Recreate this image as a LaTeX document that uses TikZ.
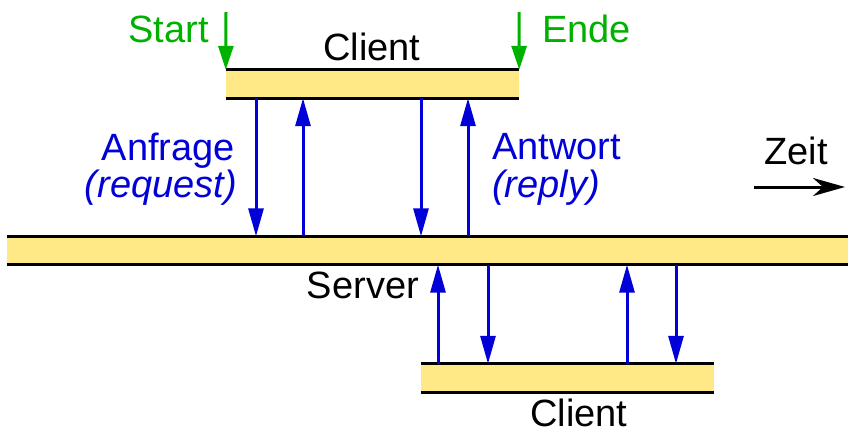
\documentclass[tikz,border=0pt]{standalone}
\usepackage{fontspec}
\setmainfont{Liberation Sans}
\usetikzlibrary{arrows.meta}
\definecolor{baryellow}{RGB}{255,233,135}
\definecolor{msgblue}{RGB}{0,0,215}
\definecolor{markgreen}{RGB}{0,178,0}
\tikzset{
  bar/.style={fill=baryellow, draw=none, inner sep=0pt, minimum height=28pt},
  barline/.style={line width=3pt, black},
  msg/.style={line width=3pt, msgblue, -{Triangle[width=15pt,length=28pt]}},
  markarrow/.style={line width=3pt, markgreen, -{Triangle[width=15pt,length=24pt]}},
  lbl/.style={font=\fontsize{38}{44}\selectfont, inner sep=0pt, text depth=0pt},
  timearrow/.style={line width=3pt, black, -{Stealth[width=18pt,length=32pt,inset=10pt]}}
}
\begin{document}
\begin{tikzpicture}[x=1pt,y=-1pt]
\useasboundingbox (0,0) rectangle (848,434);
% bars
\node[bar, minimum width=293pt] (c1) at (372.5,84) {};
\node[bar, minimum width=850pt] (srv) at (432,250.5) {};
\node[bar, minimum width=293pt] (c2) at (567.5,378) {};
\foreach \b in {c1,srv,c2}{
  \draw[barline] (\b.north west) -- (\b.north east);
  \draw[barline] (\b.south west) -- (\b.south east);
}
% labels
\node[lbl, anchor=base] (c1lbl) at (372,60) {Client};
\node[lbl, anchor=base] (c2lbl) at (579,426) {Client};
\node[lbl, anchor=base east] (srvlbl) at (419,298) {Server};
\node[lbl, anchor=base east, text=markgreen] (start) at (209,42) {Start};
\node[lbl, anchor=base west, text=markgreen] (ende) at (542,42) {Ende};
\node[lbl, anchor=base east, text=msgblue] (anfrage) at (235,160) {Anfrage};
\node[lbl, anchor=base east, text=msgblue] (request) at (237,197) {\itshape (request)};
\node[lbl, anchor=base west, text=msgblue] (antwort) at (492,159) {Antwort};
\node[lbl, anchor=base west, text=msgblue] (reply) at (492,197) {\itshape (reply)};
\node[lbl, anchor=base] (zeit) at (796,164) {Zeit};
% start / end markers
\coordinate (startTop) at (226,12);
\coordinate (endeTop) at (519,12);
\draw[markarrow] (startTop) -- (c1.north west);
\draw[markarrow] (endeTop) -- (c1.north east);
% top client <-> server
\draw[msg] (c1.south -| 256,0) -- (srv.north -| 256,0);
\draw[msg] (srv.north -| 303,0) -- (c1.south -| 303,0);
\draw[msg] (c1.south -| 421,0) -- (srv.north -| 421,0);
\draw[msg] (srv.north -| 468,0) -- (c1.south -| 468,0);
% bottom client <-> server
\draw[msg] (c2.north -| 438,0) -- (srv.south -| 438,0);
\draw[msg] (srv.south -| 488,0) -- (c2.north -| 488,0);
\draw[msg] (c2.north -| 627,0) -- (srv.south -| 627,0);
\draw[msg] (srv.south -| 676,0) -- (c2.north -| 676,0);
% time arrow
\coordinate (zeitA) at (754,187);
\coordinate (zeitB) at (845,187);
\draw[timearrow] (zeitA) -- (zeitB);
\end{tikzpicture}
\end{document}
